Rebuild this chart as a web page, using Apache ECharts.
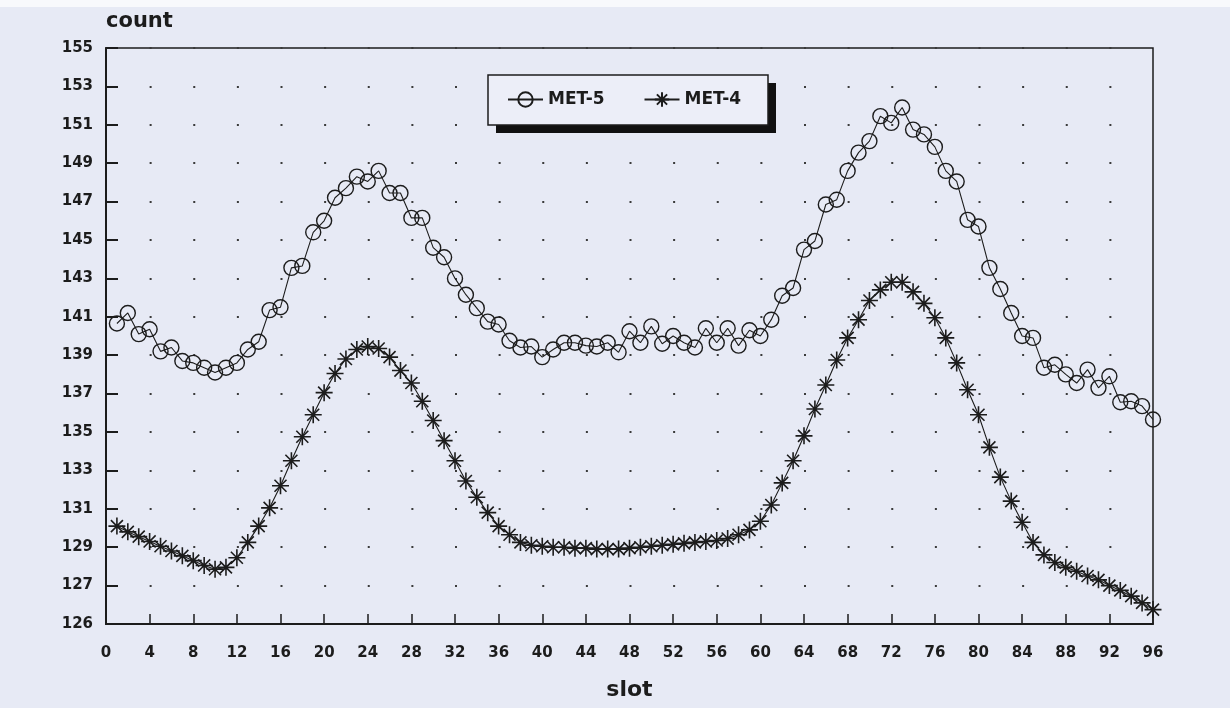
<!DOCTYPE html>
<html>
<head>
<meta charset="utf-8">
<script src="https://cdn.jsdelivr.net/npm/echarts@6/dist/echarts.min.js"></script>
<style>
  html, body { margin: 0; padding: 0; background: #e7eaf5; }
  #chart { width: 1230px; height: 708px; }
</style>
</head>
<body>
<div id="chart"></div>
<script>
// Time slots of the day (15-minute slots)
const slots = [
  1, 2, 3, 4, 5, 6, 7, 8, 9, 10, 11, 12, 13, 14, 15, 16,
  17, 18, 19, 20, 21, 22, 23, 24, 25, 26, 27, 28, 29, 30, 31, 32,
  33, 34, 35, 36, 37, 38, 39, 40, 41, 42, 43, 44, 45, 46, 47, 48,
  49, 50, 51, 52, 53, 54, 55, 56, 57, 58, 59, 60, 61, 62, 63, 64,
  65, 66, 67, 68, 69, 70, 71, 72, 73, 74, 75, 76, 77, 78, 79, 80,
  81, 82, 83, 84, 85, 86, 87, 88, 89, 90, 91, 92, 93, 94, 95, 96
];

// MET-5 counts per slot
const met5 = [
  140.65, 141.2, 140.1, 140.35, 139.2, 139.4, 138.7, 138.6, 138.35, 138.1, 138.35, 138.6, 139.3, 139.7, 141.35, 141.5,
  143.55, 143.65, 145.4, 146.0, 147.2, 147.7, 148.3, 148.05, 148.6, 147.45, 147.45, 146.15, 146.15, 144.6, 144.1, 143.0,
  142.15, 141.45, 140.75, 140.6, 139.75, 139.4, 139.45, 138.9, 139.3, 139.65, 139.65, 139.5, 139.45, 139.65, 139.15, 140.25,
  139.65, 140.5, 139.6, 140.0, 139.65, 139.4, 140.4, 139.65, 140.4, 139.5, 140.3, 140.0, 140.85, 142.1, 142.5, 144.5,
  144.95, 146.85, 147.1, 148.6, 149.55, 150.15, 151.45, 151.1, 151.9, 150.75, 150.5, 149.85, 148.6, 148.05, 146.05, 145.7,
  143.55, 142.45, 141.2, 140.0, 139.9, 138.35, 138.5, 138.0, 137.55, 138.25, 137.3, 137.9, 136.55, 136.6, 136.35, 135.65
];

// MET-4 counts per slot
const met4 = [
  130.1, 129.8, 129.55, 129.3, 129.05, 128.8, 128.55, 128.3, 128.05, 127.85, 127.95, 128.45, 129.25, 130.1, 131.05, 132.2,
  133.5, 134.75, 135.9, 137.05, 138.05, 138.8, 139.3, 139.45, 139.35, 138.9, 138.2, 137.55, 136.6, 135.6, 134.55, 133.5,
  132.45, 131.6, 130.8, 130.1, 129.65, 129.25, 129.1, 129.05, 129.0, 129.0, 128.95, 128.95, 128.9, 128.9, 128.9, 128.95,
  129.0, 129.05, 129.1, 129.15, 129.2, 129.25, 129.3, 129.35, 129.45, 129.65, 129.9, 130.35, 131.2, 132.35, 133.5, 134.8,
  136.2, 137.45, 138.75, 139.9, 140.85, 141.85, 142.4, 142.8, 142.8, 142.3, 141.7, 140.95, 139.9, 138.6, 137.2, 135.9,
  134.2, 132.65, 131.4, 130.3, 129.25, 128.6, 128.2, 127.95, 127.75, 127.5, 127.3, 127.0, 126.75, 126.45, 126.1, 125.75
];

// Value-axis tick labels, bottom to top
const yTickLabels = ['126', '127', '129', '131', '133', '135', '137', '139', '141', '143', '145', '147', '149', '151', '153', '155'];
const yMin = 125, yMax = 155, yStep = 2;
const xMin = 0, xMax = 96, xStep = 4;

const ink = '#1c1c1c';
const asterisk = 'path://M8 0L8 16M0 8L16 8M2.35 2.35L13.65 13.65M2.35 13.65L13.65 2.35';

const chart = echarts.init(document.getElementById('chart'), null, { renderer: 'canvas' });

const grid = { left: 106, right: 77, top: 48, bottom: 84 };
const plotWidth = 1230 - grid.left - grid.right;
const dotGap = plotWidth / (xMax - xMin) * xStep;

// Legend frame with a solid drop shadow
const legendBox = { x: 488, y: 75, w: 280, h: 50, shadow: 8 };

chart.setOption({
  animation: false,
  backgroundColor: '#e7eaf5',
  textStyle: { fontFamily: 'DejaVu Sans' },
  graphic: [
    {
      type: 'rect', left: 0, top: 0, silent: true, z: 0,
      shape: { width: 1230, height: 7 },
      style: { fill: '#f8f9fc' }
    },
    {
      type: 'rect', silent: true, z: 5,
      shape: { x: legendBox.x + legendBox.shadow, y: legendBox.y + legendBox.shadow, width: legendBox.w, height: legendBox.h },
      style: { fill: '#111' }
    },
    {
      type: 'rect', silent: true, z: 6,
      shape: { x: legendBox.x, y: legendBox.y, width: legendBox.w, height: legendBox.h },
      style: { fill: '#eceef8', stroke: ink, lineWidth: 1.5 }
    }
  ],
  grid: Object.assign({ show: true, borderColor: ink, borderWidth: 1.5, backgroundColor: 'transparent' }, grid),
  legend: {
    data: ['MET-5', 'MET-4'],
    left: 507, top: 91,
    padding: 0,
    itemGap: 39,
    itemWidth: 35,
    itemHeight: 18,
    z: 10,
    textStyle: { fontFamily: 'DejaVu Sans', fontWeight: 'bold', fontSize: 17, color: ink }
  },
  xAxis: {
    type: 'value',
    min: xMin, max: xMax, interval: xStep,
    name: 'slot',
    nameLocation: 'middle',
    nameGap: 55,
    nameTextStyle: { fontSize: 22, fontWeight: 'bold', color: ink, fontFamily: 'DejaVu Sans' },
    axisLine: { show: true, onZero: false, lineStyle: { color: ink, width: 2 } },
    axisTick: { show: true, inside: true, length: 10, lineStyle: { color: ink, width: 1.5 } },
    axisLabel: { margin: 22, fontSize: 15, fontWeight: 'bold', color: ink },
    splitLine: { show: false }
  },
  yAxis: {
    type: 'value',
    min: yMin, max: yMax, interval: yStep,
    name: 'count',
    nameLocation: 'end',
    nameGap: 16,
    nameTextStyle: { fontSize: 21, fontWeight: 'bold', color: ink, align: 'left', verticalAlign: 'bottom', fontFamily: 'DejaVu Sans' },
    axisLine: { show: true, onZero: false, lineStyle: { color: ink, width: 2 } },
    axisTick: { show: true, inside: true, length: 12, lineStyle: { color: ink, width: 2 } },
    axisLabel: {
      margin: 13, fontSize: 15, fontWeight: 'bold', color: ink,
      formatter: (v) => yTickLabels[Math.round((v - yMin) / yStep)]
    },
    splitLine: {
      show: true,
      lineStyle: { color: '#3a3a3a', width: 1.8, type: [2, dotGap - 2] }
    }
  },
  series: [
    {
      name: 'MET-5',
      type: 'line',
      data: slots.map((s, i) => [s, met5[i]]),
      symbol: 'circle',
      symbolSize: 15,
      showAllSymbol: true,
      itemStyle: { color: 'rgba(0,0,0,0)', borderColor: ink, borderWidth: 1.4 },
      lineStyle: { color: ink, width: 1.1 },
      emphasis: { disabled: true },
      z: 3
    },
    {
      name: 'MET-4',
      type: 'line',
      data: slots.map((s, i) => [s, met4[i]]),
      symbol: asterisk,
      symbolSize: 17,
      symbolKeepAspect: true,
      showAllSymbol: true,
      itemStyle: { color: ink, borderColor: ink, borderWidth: 1.6 },
      lineStyle: { color: ink, width: 1.1 },
      emphasis: { disabled: true },
      z: 3
    }
  ]
});
</script>
</body>
</html>
